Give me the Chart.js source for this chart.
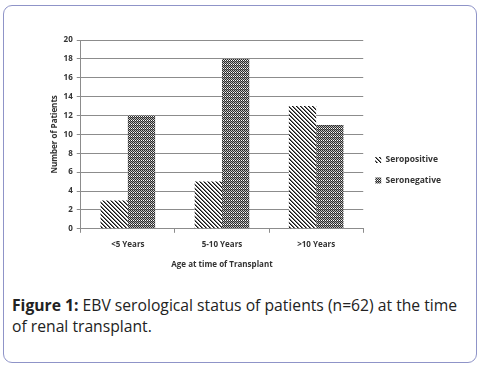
<!DOCTYPE html>
<html>
<head>
<meta charset="utf-8">
<script src="https://cdn.jsdelivr.net/npm/chart.js@4.4.0/dist/chart.umd.min.js"></script>
<style>
  html, body { margin: 0; padding: 0; background: #fff; }
  .figure-box {
    position: absolute; left: 3px; top: 5px; width: 472px; height: 356px;
    border: 1.5px solid #8f94c8; border-radius: 9px; background: #fff;
  }
  .chart-wrap { position: absolute; left: 0; top: 0; width: 472px; height: 278px; }
  .caption {
    position: absolute; left: 8px; top: 289px; width: 456px;
    font-family: "Open Sans", sans-serif; font-size: 15.7px; line-height: 21px; color: #222;
  }
</style>
</head>
<body>
<div class="figure-box">
  <div class="chart-wrap"><canvas id="ebv-chart"></canvas></div>
  <div class="caption"><strong>Figure 1:</strong> EBV serological status of patients (n=62) at the time of renal transplant.</div>
</div>
<script>
/* ============================================= */
/*                     Data                      */
/* ============================================= */

const ageGroups = ["<5 Years", "5-10 Years", ">10 Years"];
const seropositive = [3, 5, 13];
const seronegative = [12, 18, 11];
const yTicks = [0, 2, 4, 6, 8, 10, 12, 14, 16, 18, 20];

/* ============================================= */
/*                   Patterns                    */
/* ============================================= */

// diagonal "\" hatch
function hatchPattern() {
    const c = document.createElement('canvas');
    c.width = 4; c.height = 4;
    const g = c.getContext('2d');
    g.fillStyle = '#fff';
    g.fillRect(0, 0, 4, 4);
    g.fillStyle = '#111';
    for (let i = 0; i < 4; i++) {
        g.fillRect(i, i, 1, 1);
    }
    g.fillStyle = '#777';
    for (let i = 0; i < 4; i++) {
        g.fillRect((i + 1) % 4, i, 1, 1);
    }
    return g.createPattern(c, 'repeat');
}

// dense checker, dark grey
function checkerPattern() {
    const c = document.createElement('canvas');
    c.width = 4; c.height = 4;
    const g = c.getContext('2d');
    g.fillStyle = '#2a2a2a';
    g.fillRect(0, 0, 4, 4);
    g.fillStyle = '#bdbdbd';
    g.fillRect(1, 0, 1, 1);
    g.fillRect(3, 0, 1, 1);
    g.fillRect(0, 1, 1, 1);
    g.fillRect(2, 1, 1, 1);
    g.fillStyle = '#ffffff';
    g.fillRect(1, 2, 1, 1);
    g.fillRect(3, 2, 1, 1);
    g.fillStyle = '#8a8a8a';
    g.fillRect(0, 3, 1, 1);
    g.fillRect(2, 3, 1, 1);
    return g.createPattern(c, 'repeat');
}

/* ============================================= */
/*                   Bar Graph                   */
/* ============================================= */

const tickFont = { family: "'Open Sans', sans-serif", size: 8, weight: 'bold' };

const ebvCanvas = document.getElementById('ebv-chart');

const ebvData = {
    labels: ageGroups,
    datasets: [{
        label: 'Seropositive',
        data: seropositive,
        backgroundColor: hatchPattern(),
        borderWidth: 0
    }, {
        label: 'Seronegative',
        data: seronegative,
        backgroundColor: checkerPattern(),
        borderWidth: 0
    }]
};

const ebvOptions = {
    responsive: true,
    maintainAspectRatio: false,
    animation: false,
    layout: {
        padding: { top: 34, left: 42, right: 25, bottom: 10 }
    },
    datasets: {
        bar: { categoryPercentage: 0.58, barPercentage: 1 }
    },
    scales: {
        x: {
            grid: {
                offset: true,
                drawOnChartArea: false,
                drawTicks: true,
                tickLength: 4,
                color: '#8c8c8c'
            },
            border: { color: '#8c8c8c' },
            ticks: { font: tickFont, color: '#333', padding: 7 },
            title: {
                display: true,
                text: 'Age at time of Transplant',
                font: tickFont,
                color: '#333',
                padding: { top: 4 }
            }
        },
        y: {
            min: 0,
            max: 20,
            afterBuildTicks: axis => {
                axis.ticks = yTicks.map(v => ({ value: v }));
            },
            grid: { color: '#8c8c8c', tickLength: 4 },
            border: { color: '#8c8c8c' },
            ticks: { font: tickFont, color: '#333', padding: 4 },
            title: {
                display: true,
                text: 'Number of Patients',
                font: tickFont,
                color: '#333',
                padding: { bottom: 0 }
            }
        }
    },
    plugins: {
        legend: {
            position: 'right',
            align: 'center',
            title: { display: true, text: ' ', padding: { top: 12 } },
            labels: {
                boxWidth: 6,
                boxHeight: 6,
                padding: 12,
                color: '#333',
                font: { family: "'Open Sans', sans-serif", size: 8.5, weight: 'bold' }
            }
        },
        tooltip: { enabled: false }
    }
};

let ebvChart = new Chart(ebvCanvas, {
    type: 'bar',
    data: ebvData,
    options: ebvOptions
});
</script>
</body>
</html>
